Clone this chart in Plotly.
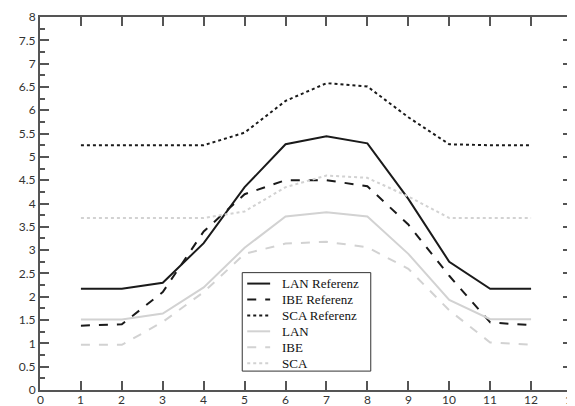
import plotly.graph_objects as go

# months 1..12
x = list(range(1, 13))
x_ticks = list(range(0, 14))
x_tick_labels = [str(v) for v in x_ticks]

lan_ref = [2.17, 2.17, 2.3, 3.15, 4.35, 5.27, 5.44, 5.29, 4.1, 2.75, 2.17, 2.17]
ibe_ref = [1.38, 1.41, 2.1, 3.4, 4.2, 4.5, 4.5, 4.37, 3.55, 2.45, 1.45, 1.39]
sca_ref = [5.25, 5.25, 5.25, 5.25, 5.52, 6.2, 6.58, 6.51, 5.85, 5.27, 5.25, 5.25]
lan = [1.51, 1.51, 1.64, 2.2, 3.05, 3.72, 3.81, 3.72, 2.92, 1.93, 1.52, 1.52]
ibe = [0.97, 0.97, 1.46, 2.1, 2.92, 3.14, 3.18, 3.06, 2.6, 1.71, 1.02, 0.97]
sca = [3.69, 3.69, 3.69, 3.69, 3.83, 4.35, 4.6, 4.55, 4.15, 3.69, 3.69, 3.69]

dark = "#1a1a1a"
light = "#d2d2d2"

series = [
    ("LAN Referenz", lan_ref, dark, "solid"),
    ("IBE Referenz", ibe_ref, dark, "dash"),
    ("SCA Referenz", sca_ref, dark, "dot"),
    ("LAN", lan, light, "solid"),
    ("IBE", ibe, light, "dash"),
    ("SCA", sca, light, "dot"),
]

# the page body has an 8px margin, so the figure is sized to fit the window
OFF = 8
W, H = 575 - OFF, 406 - OFF
ML, MR, MT, MB = 40 - OFF, 1, 15 - OFF, 16
PW, PH = W - ML - MR, H - MT - MB


def px(xp):
    # page pixel -> paper fraction
    return (xp - OFF - ML) / PW


def py(yp):
    return (H - MB - (yp - OFF)) / PH


fig = go.Figure()
for name, vals, col, dash in series:
    fig.add_trace(go.Scatter(x=x, y=vals, mode="lines", name=name, showlegend=False,
                             line=dict(color=col, width=2, dash=dash)))

# hand-drawn legend box (plotly's own legend rows are too tall)
shapes = [dict(type="rect", xref="paper", yref="paper",
               x0=px(243), x1=px(372), y0=py(371), y1=py(272),
               line=dict(color="#333333", width=1), fillcolor="white", layer="above")]
annotations = []
row0, step = 283, 16
for i, (name, vals, col, dash) in enumerate(series):
    yc = row0 + i * step
    shapes.append(dict(type="line", xref="paper", yref="paper",
                       x0=px(248), x1=px(271), y0=py(yc), y1=py(yc),
                       line=dict(color=col, width=2, dash=dash), layer="above"))
    annotations.append(dict(xref="paper", yref="paper", x=px(281), y=py(yc),
                            xanchor="left", yanchor="middle", text=name, showarrow=False,
                            font=dict(family="Liberation Serif, serif", size=13,
                                      color="#111111")))

tick_font = dict(family="Lato, sans-serif", size=12, color="#333333")

# x tick labels placed tight under the axis, like the original
for v, lab in zip(x_ticks, x_tick_labels):
    annotations.append(dict(xref="x", yref="paper", x=v, y=0, yanchor="top",
                            yshift=-1, text=lab, showarrow=False, font=tick_font,
                            borderpad=0))

axis_common = dict(
    showline=True, linecolor="#555555", linewidth=2, mirror="ticks",
    ticks="inside", tickcolor="#555555", tickwidth=2, ticklen=9,
    showgrid=False, zeroline=False, tickfont=tick_font,
)

fig.update_xaxes(range=[0, 13], tickvals=x_ticks, showticklabels=False, **axis_common)
fig.update_yaxes(range=[0, 8], dtick=0.5, tick0=0, ticklabeloverflow="allow",
                 minor=dict(ticks="inside", dtick=0.25, ticklen=5,
                            tickcolor="#555555", tickwidth=2),
                 **axis_common)

fig.update_layout(
    width=W, height=H,
    margin=dict(l=ML, r=MR, t=MT, b=MB),
    plot_bgcolor="white", paper_bgcolor="white",
    showlegend=False,
    shapes=shapes, annotations=annotations,
)

fig.write_html("out.html")
